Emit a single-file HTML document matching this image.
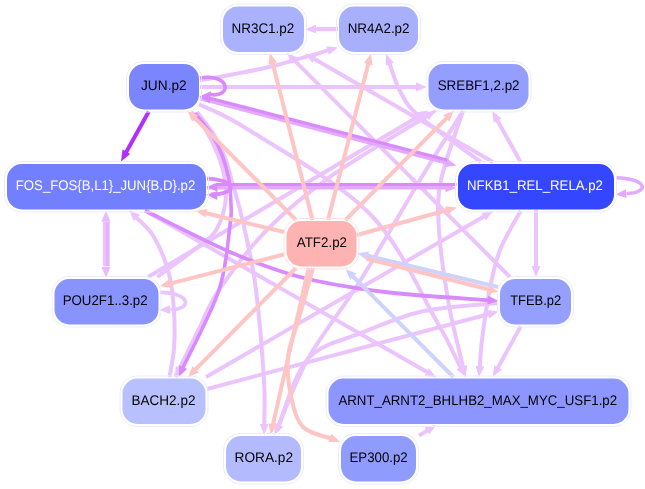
<!DOCTYPE html>
<html><head><meta charset="utf-8"><style>
html,body{margin:0;padding:0;background:#fff;width:645px;height:489px;overflow:hidden}
svg{display:block}
text{font-family:"Liberation Sans",sans-serif;font-size:14px;text-rendering:geometricPrecision}
svg{will-change:transform}
</style></head><body>
<svg width="645" height="489" viewBox="0 0 645 489">
<g>
<path d="M338,29 L313.8,29.1" fill="none" stroke="#ebc4fe" stroke-width="4"/>
<polygon points="305.0,29.2 316.0,24.7 316.0,33.5" fill="#ebc4fe"/>
<path d="M200,80.5 C210.8,78.4 247.7,71.8 265,68 C282.3,64.2 293.2,60.4 304,57.4 C314.8,54.4 325.3,51.1 329.6,49.9" fill="none" stroke="#ebc4fe" stroke-width="4"/>
<polygon points="338.0,47.4 328.7,54.7 326.2,46.3" fill="#ebc4fe"/>
<path d="M200,87 L418.2,87.0" fill="none" stroke="#ebc4fe" stroke-width="4"/>
<polygon points="427.0,87.0 416.0,91.4 416.0,82.6" fill="#ebc4fe"/>
<path d="M493,162 L312.6,57.9" fill="none" stroke="#ebc4fe" stroke-width="4"/>
<polygon points="305.0,53.5 316.7,55.2 312.3,62.8" fill="#ebc4fe"/>
<path d="M481,162 C470.7,154.3 432.5,127.8 419,116 C405.5,104.2 405.0,100.0 400,91 C395.0,82.0 390.9,67.0 389.1,62.2" fill="none" stroke="#ebc4fe" stroke-width="4"/>
<polygon points="386.0,54.0 394.0,62.7 385.8,65.8" fill="#ebc4fe"/>
<path d="M510,277 L293.2,59.2" fill="none" stroke="#ebc4fe" stroke-width="4"/>
<polygon points="287.0,53.0 297.9,57.7 291.6,63.9" fill="#ebc4fe"/>
<path d="M520.5,162 L496.5,118.7" fill="none" stroke="#ebc4fe" stroke-width="4"/>
<polygon points="492.2,111.0 501.4,118.5 493.7,122.8" fill="#ebc4fe"/>
<path d="M536,210 L536.0,268.2" fill="none" stroke="#ebc4fe" stroke-width="4"/>
<polygon points="536.0,277.0 531.6,266.0 540.4,266.0" fill="#ebc4fe"/>
<path d="M206,377 L485.7,215.4" fill="none" stroke="#ebc4fe" stroke-width="4"/>
<polygon points="493.3,211.0 486.0,220.3 481.6,212.7" fill="#ebc4fe"/>
<path d="M207,389 L490.2,313.8" fill="none" stroke="#ebc4fe" stroke-width="4"/>
<polygon points="498.7,311.5 489.2,318.6 486.9,310.1" fill="#ebc4fe"/>
<path d="M169.5,377 C170.2,372.2 173.2,359.0 174,348 C174.8,337.0 174.8,323.3 174,311 C173.2,298.7 172.3,286.3 169,274 C165.7,261.7 159.6,246.6 154,237 C148.4,227.4 138.3,219.9 135.2,216.5" fill="none" stroke="#ebc4fe" stroke-width="4"/>
<polygon points="129.3,210.0 140.0,215.1 133.5,221.1" fill="#ebc4fe"/>
<path d="M106.1,266 L106.1,222" fill="none" stroke="#ebc4fe" stroke-width="6.6"/>
<path d="M107.6,266 L107.6,222" fill="none" stroke="#e6b4fe" stroke-width="3.8"/>
<path d="M148,277 L420.9,115.0" fill="none" stroke="#ebc4fe" stroke-width="4"/>
<polygon points="428.5,110.5 421.3,119.9 416.8,112.3" fill="#ebc4fe"/>
<path d="M157.4,277 C164.3,271.8 189.3,253.7 199,246 C208.7,238.3 211.2,237.8 215.5,231 C219.8,224.2 223.4,213.5 225,205 C226.6,196.5 226.2,188.3 225,180 C223.8,171.7 221.2,163.3 218,155 C214.8,146.7 209.6,136.3 206,130 C202.4,123.7 197.9,119.2 196.3,117.0" fill="none" stroke="#ebc4fe" stroke-width="4"/>
<polygon points="191.0,110.0 201.1,116.2 194.1,121.4" fill="#ebc4fe"/>
<path d="M145,210.5 L428.7,373.1" fill="none" stroke="#ebc4fe" stroke-width="4"/>
<polygon points="436.3,377.5 424.6,375.8 428.9,368.2" fill="#ebc4fe"/>
<path d="M419,435.6 L428.8,429.6" fill="none" stroke="#ebc4fe" stroke-width="4"/>
<polygon points="436.3,425.0 429.2,434.5 424.6,427.0" fill="#ebc4fe"/>
<path d="M520.8,326.3 L497.0,369.3" fill="none" stroke="#ebc4fe" stroke-width="4"/>
<polygon points="492.7,377.0 494.2,365.2 501.9,369.5" fill="#ebc4fe"/>
<path d="M463,111 C459.3,122.5 445.0,160.2 441,180 C437.0,199.8 437.8,210.0 439,230 C440.2,250.0 444.7,280.0 448,300 C451.3,320.0 456.4,338.6 459,350 C461.6,361.4 462.7,365.3 463.4,368.4" fill="none" stroke="#ebc4fe" stroke-width="4"/>
<polygon points="465.5,377.0 458.6,367.3 467.2,365.3" fill="#ebc4fe"/>
<path d="M463,111 C456.3,121.7 440.2,146.7 423,175 C405.8,203.3 379.2,250.3 360,281 C340.8,311.7 321.4,334.7 307.8,359 C294.2,383.3 283.1,415.6 278.1,426.9" fill="none" stroke="#ebc4fe" stroke-width="4"/>
<polygon points="274.6,435.0 275.0,423.2 283.0,426.7" fill="#ebc4fe"/>
<path d="M498,303 C485.7,304.3 446.7,306.1 424,311 C401.3,315.9 381.4,324.7 362,332.7 C342.6,340.7 321.8,343.3 307.8,359 C293.8,374.7 283.1,415.6 278.1,426.9" fill="none" stroke="#ebc4fe" stroke-width="4"/>
<polygon points="274.6,435.0 275.0,423.2 283.0,426.7" fill="#ebc4fe"/>
<path d="M199,104.3 C207.5,108.7 221.5,112.4 250,130.7 C278.5,149.0 339.0,182.4 370,214 C401.0,245.6 420.8,294.1 436,320 C451.2,345.9 457.2,361.0 461.5,369.2" fill="none" stroke="#ebc4fe" stroke-width="4"/>
<polygon points="465.5,377.0 456.5,369.3 464.4,365.2" fill="#ebc4fe"/>
<path d="M197,112 C199.8,115.8 209.3,127.3 214,135 C218.7,142.7 221.8,149.7 225,158 C228.2,166.3 230.5,176.3 233,185 C235.5,193.7 237.7,200.8 240,210 C242.3,219.2 244.3,226.7 247,240 C249.7,253.3 253.2,266.7 256,290 C258.8,313.3 262.6,357.3 264,380 C265.4,402.7 264.2,418.5 264.2,426.2" fill="none" stroke="#ebc4fe" stroke-width="4"/>
<polygon points="264.2,435.0 259.8,424.0 268.6,424.0" fill="#ebc4fe"/>
<path d="M520.6,211 C517.2,217.5 505.2,236.8 500,250 C494.8,263.2 492.6,275.0 489.6,290 C486.6,305.0 483.6,327.0 482,340 C480.4,353.0 480.1,363.5 479.7,368.2" fill="none" stroke="#ebc4fe" stroke-width="4"/>
<polygon points="479.0,377.0 475.5,365.7 484.3,366.4" fill="#ebc4fe"/>
<path d="M175.3,377 C179.2,369.2 191.2,344.5 198.5,330 C205.8,315.5 207.6,306.7 219,290 C230.4,273.3 248.3,248.9 266.8,230 C285.3,211.1 303.1,195.9 330,176.8 C356.9,157.7 412.1,125.5 428.5,115.2" fill="none" stroke="#ebc4fe" stroke-width="4"/>
<polygon points="436.0,110.5 429.0,120.1 424.3,112.6" fill="#ebc4fe"/>
<path d="M436,110.5 C418.3,121.5 358.2,156.9 330,176.8 C301.8,196.7 285.3,211.1 266.8,230 C248.3,248.9 230.4,273.3 219,290 C207.6,306.7 205.2,316.7 198.5,330 C191.8,343.3 182.1,363.2 178.8,369.8" fill="none" stroke="#ebc4fe" stroke-width="3"/>
<polygon points="175.3,377.0 175.7,366.0 183.8,370.0" fill="#ebc4fe"/>
<path d="M200,98.5 L448.0,163.3" fill="none" stroke="#e3aafe" stroke-width="3.5"/>
<polygon points="456.5,165.5 444.7,167.0 447.0,158.5" fill="#e3aafe"/>
<path d="M207,187.8 L447.7,187.8" fill="none" stroke="#e3aafe" stroke-width="3.6"/>
<polygon points="456.5,187.8 445.5,192.2 445.5,183.4" fill="#e3aafe"/>
<path d="M195,113 C197.8,116.7 207.5,128.0 212,135 C216.5,142.0 219.2,147.5 222,155 C224.8,162.5 227.5,171.7 229,180 C230.5,188.3 230.8,197.5 231,205 C231.2,212.5 232.0,210.8 230,225 C228.0,239.2 226.9,266.0 219,290 C211.1,314.0 188.4,355.8 182.3,369.0" fill="none" stroke="#d98afe" stroke-width="3.6"/>
<polygon points="178.6,377.0 179.2,365.2 187.2,368.9" fill="#d98afe"/>
<path d="M447,160 L207,97.5" fill="none" stroke="#d98afe" stroke-width="3.3"/>
<path d="M456.5,184.6 L216,184.6" fill="none" stroke="#d98afe" stroke-width="3.0"/>
<path d="M145,210.5 C159.2,217.4 204.2,240.9 230,252 C255.8,263.1 274.2,270.3 300,277 C325.8,283.7 353.4,288.1 385,292 C416.6,295.9 472.4,298.9 489.9,300.3" fill="none" stroke="#d98afe" stroke-width="3.8"/>
<polygon points="498.7,301.0 487.4,304.5 488.1,295.7" fill="#d98afe"/>
<path d="M148.8,111.5 L125.3,153.7" fill="none" stroke="#b22efe" stroke-width="4"/>
<polygon points="121.0,161.4 122.5,149.6 130.2,153.9" fill="#b22efe"/>
<path d="M498,287 L365.8,255.3" fill="none" stroke="#ced3fe" stroke-width="4"/>
<polygon points="357.2,253.3 368.9,251.6 366.9,260.1" fill="#ced3fe"/>
<path d="M453.4,377 L351.7,275.1" fill="none" stroke="#ced3fe" stroke-width="4"/>
<polygon points="345.5,268.9 356.4,273.6 350.2,279.8" fill="#ced3fe"/>
<path d="M312.5,220 L272.2,61.5" fill="none" stroke="#ffc4c4" stroke-width="4"/>
<polygon points="270.0,53.0 277.0,62.6 268.4,64.7" fill="#ffc4c4"/>
<path d="M328,220 L368.8,62.1" fill="none" stroke="#ffc4c4" stroke-width="4"/>
<polygon points="371.0,53.6 372.5,65.4 364.0,63.1" fill="#ffc4c4"/>
<path d="M296,220 L193.6,116.8" fill="none" stroke="#ffc4c4" stroke-width="4"/>
<polygon points="187.4,110.6 198.3,115.3 192.0,121.5" fill="#ffc4c4"/>
<path d="M345.5,220 L447.8,116.8" fill="none" stroke="#ffc4c4" stroke-width="4"/>
<polygon points="454.0,110.5 449.4,121.4 443.1,115.2" fill="#ffc4c4"/>
<path d="M357,235 L448.5,209.8" fill="none" stroke="#ffc4c4" stroke-width="4"/>
<polygon points="457.0,207.5 447.6,214.7 445.2,206.2" fill="#ffc4c4"/>
<path d="M366,258.5 L490.2,289.8" fill="none" stroke="#ffc4c4" stroke-width="4"/>
<polygon points="498.7,292.0 487.0,293.6 489.1,285.0" fill="#ffc4c4"/>
<path d="M284.3,232 L204.2,212.8" fill="none" stroke="#ffc4c4" stroke-width="4"/>
<polygon points="195.6,210.7 207.3,209.0 205.3,217.5" fill="#ffc4c4"/>
<path d="M284.3,254.3 L168.1,284.1" fill="none" stroke="#ffc4c4" stroke-width="4"/>
<polygon points="159.6,286.3 169.2,279.3 171.3,287.8" fill="#ffc4c4"/>
<path d="M296,268 L194.1,370.9" fill="none" stroke="#ffc4c4" stroke-width="4"/>
<polygon points="187.9,377.2 192.5,366.3 198.8,372.5" fill="#ffc4c4"/>
<path d="M308.6,268 L272.5,426.4" fill="none" stroke="#ffc4c4" stroke-width="4"/>
<polygon points="270.5,435.0 268.7,423.3 277.2,425.3" fill="#ffc4c4"/>
<path d="M313,268 C310.7,276.3 303.2,303.2 299,318 C294.8,332.8 289.3,344.0 288,357 C286.7,370.0 288.5,384.3 291,396 C293.5,407.7 296.2,419.9 303,427 C309.8,434.1 327.0,436.8 331.8,438.7" fill="none" stroke="#ffc4c4" stroke-width="4"/>
<polygon points="340.0,442.0 328.2,441.9 331.5,433.8" fill="#ffc4c4"/>
<path d="M106,266 L106,222" fill="none" stroke="#e8bafe" stroke-width="0.1"/>
<polygon points="106.0,210.7 110.6,221.7 101.4,221.7" fill="#e8bafe"/>
<path d="M106,222 L106,266" fill="none" stroke="#e8bafe" stroke-width="0.1"/>
<polygon points="106.0,277.8 101.4,266.8 110.6,266.8" fill="#e8bafe"/>
<path d="M616,177.7 C649,179 649,193 626.5,193.5" fill="none" stroke="#e3aafe" stroke-width="3.6"/>
<polygon points="615.2,194.5 625.9,189.3 626.5,198.1" fill="#e3aafe"/>
<path d="M160,292.4 C192,293 192,309.5 170.5,309.5" fill="none" stroke="#ebc4fe" stroke-width="3.6"/>
<polygon points="159.2,309.9 170.1,305.3 170.3,314.1" fill="#ebc4fe"/>
<path d="M200,78 C231,73 232,98 210,94.5" fill="none" stroke="#d98afe" stroke-width="3.6"/>
<polygon points="199.5,96.2 211.1,91.2 209.8,103.6" fill="#d98afe"/>
<path d="M207,178.7 C238,180 238,194 211,194.5" fill="none" stroke="#d98afe" stroke-width="3.8"/>
<polygon points="206.5,194.8 217.8,190.9 217.2,200.1" fill="#d98afe"/>
<path d="M218,187 L216,187" fill="none" stroke="#d98afe" stroke-width="0.1"/>
<polygon points="206.4,187.0 217.4,182.4 217.4,191.6" fill="#d98afe"/>
</g>
<g>
<rect x="220.5" y="4.0" width="86" height="50.5" rx="17" ry="17" fill="none" stroke="#eaecfe" stroke-width="1"/>
<rect x="223" y="6.5" width="81" height="45.5" rx="15" ry="15" fill="#aab2fe"/>
<text x="231.44" y="32.55" fill="#000" textLength="62.92" lengthAdjust="spacingAndGlyphs">NR3C1.p2</text>
<rect x="336.5" y="4.0" width="84" height="50.5" rx="17" ry="17" fill="none" stroke="#eaecfe" stroke-width="1"/>
<rect x="339" y="6.5" width="79" height="45.5" rx="15" ry="15" fill="#a8b0fe"/>
<text x="347.64" y="32.55" fill="#000" textLength="61.93" lengthAdjust="spacingAndGlyphs">NR4A2.p2</text>
<rect x="126.5" y="61.5" width="75" height="50.5" rx="17" ry="17" fill="none" stroke="#eaecfe" stroke-width="1"/>
<rect x="129" y="64" width="70" height="45.5" rx="15" ry="15" fill="#7a85fe"/>
<text x="141.00" y="90.05" fill="#000" textLength="45.67" lengthAdjust="spacingAndGlyphs">JUN.p2</text>
<rect x="426.0" y="61.5" width="105" height="50.5" rx="17" ry="17" fill="none" stroke="#eaecfe" stroke-width="1"/>
<rect x="428.5" y="64" width="100" height="45.5" rx="15" ry="15" fill="#939efe"/>
<text x="437.64" y="90.05" fill="#000" textLength="81.94" lengthAdjust="spacingAndGlyphs">SREBF1,2.p2</text>
<rect x="4.5" y="161.5" width="204" height="50.5" rx="17" ry="17" fill="none" stroke="#eaecfe" stroke-width="1"/>
<rect x="7" y="164" width="199" height="45.5" rx="15" ry="15" fill="#727ffe"/>
<text x="15.81" y="190.05" fill="#fff" textLength="179.41" lengthAdjust="spacingAndGlyphs">FOS_FOS{B,L1}_JUN{B,D}.p2</text>
<rect x="455.5" y="161.5" width="161" height="50.5" rx="17" ry="17" fill="none" stroke="#eaecfe" stroke-width="1"/>
<rect x="458" y="164" width="156" height="45.5" rx="15" ry="15" fill="#3446fe"/>
<text x="467.06" y="190.05" fill="#fff" textLength="135.91" lengthAdjust="spacingAndGlyphs">NFKB1_REL_RELA.p2</text>
<rect x="284.0" y="218.5" width="75" height="50.5" rx="17" ry="17" fill="none" stroke="#ffe2e2" stroke-width="1"/>
<rect x="286.5" y="221" width="70" height="45.5" rx="15" ry="15" fill="#ffb2b2"/>
<text x="296.80" y="247.05" fill="#000" textLength="50.23" lengthAdjust="spacingAndGlyphs">ATF2.p2</text>
<rect x="52.0" y="276.5" width="109" height="50.5" rx="17" ry="17" fill="none" stroke="#eaecfe" stroke-width="1"/>
<rect x="54.5" y="279" width="104" height="45.5" rx="15" ry="15" fill="#8893fe"/>
<text x="62.65" y="305.05" fill="#000" textLength="85.02" lengthAdjust="spacingAndGlyphs">POU2F1..3.p2</text>
<rect x="497.5" y="276.5" width="76" height="50.5" rx="17" ry="17" fill="none" stroke="#eaecfe" stroke-width="1"/>
<rect x="500" y="279" width="71" height="45.5" rx="15" ry="15" fill="#95a0fe"/>
<text x="510.20" y="305.05" fill="#000" textLength="51.03" lengthAdjust="spacingAndGlyphs">TFEB.p2</text>
<rect x="120.0" y="376.0" width="88" height="50.5" rx="17" ry="17" fill="none" stroke="#eaecfe" stroke-width="1"/>
<rect x="122.5" y="378.5" width="83" height="45.5" rx="15" ry="15" fill="#b8c0fe"/>
<text x="131.53" y="404.55" fill="#000" textLength="63.92" lengthAdjust="spacingAndGlyphs">BACH2.p2</text>
<rect x="326.0" y="376.0" width="305" height="50.5" rx="17" ry="17" fill="none" stroke="#eaecfe" stroke-width="1"/>
<rect x="328.5" y="378.5" width="300" height="45.5" rx="15" ry="15" fill="#8c96fe"/>
<text x="338.40" y="404.55" fill="#000" textLength="278.70" lengthAdjust="spacingAndGlyphs">ARNT_ARNT2_BHLHB2_MAX_MYC_USF1.p2</text>
<rect x="223.5" y="433.5" width="80" height="50.5" rx="17" ry="17" fill="none" stroke="#eaecfe" stroke-width="1"/>
<rect x="226" y="436" width="75" height="45.5" rx="15" ry="15" fill="#b3bbfe"/>
<text x="234.52" y="462.05" fill="#000" textLength="58.58" lengthAdjust="spacingAndGlyphs">RORA.p2</text>
<rect x="338.5" y="433.5" width="80" height="50.5" rx="17" ry="17" fill="none" stroke="#eaecfe" stroke-width="1"/>
<rect x="341" y="436" width="75" height="45.5" rx="15" ry="15" fill="#909bfe"/>
<text x="349.56" y="462.05" fill="#000" textLength="58.12" lengthAdjust="spacingAndGlyphs">EP300.p2</text>
</g>
</svg>
</body></html>
